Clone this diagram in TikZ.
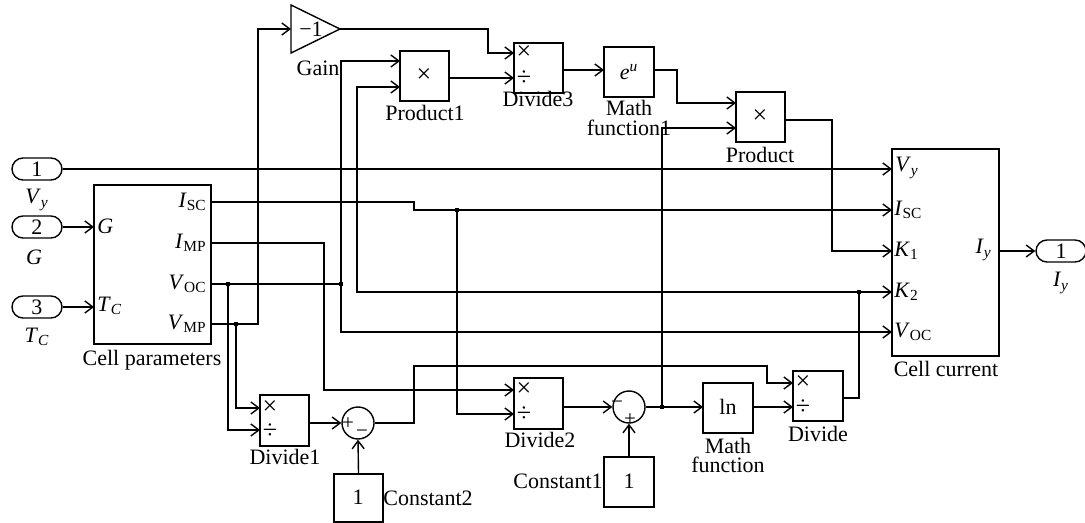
\documentclass[tikz,border=0pt]{standalone}
\usepackage{fontspec}
\setmainfont{Liberation Serif}
\usetikzlibrary{arrows.meta,shapes.misc,fit}
\newcommand\vs[2]{\textit{#1}\textsubscript{#2}}
\newcommand\vi[2]{\textit{#1}\textsubscript{\textit{#2}}}
\begin{document}
\begin{tikzpicture}[x=0.5pt,y=-0.5pt,font=\fontsize{11}{12}\selectfont,
  wire/.style={line width=0.7pt},
  arr/.style={wire,-{Straight Barb[length=4pt,width=6pt,line width=0.7pt]}},
  blk/.style={draw,line width=0.7pt,inner sep=0pt},
  port/.style={draw,rounded rectangle,line width=0.7pt,minimum width=25pt,minimum height=11pt,inner sep=0pt},
  jdot/.style={fill,rectangle,inner sep=0pt,minimum size=2.4pt},
  sumc/.style={draw,circle,line width=0.7pt,minimum size=16pt,inner sep=0pt},
  lbl/.style={inner sep=0pt},
  sym/.style={inner sep=0pt,font=\fontsize{13}{13}\selectfont},
  sgn/.style={inner sep=0pt,font=\fontsize{10.5}{10.5}\selectfont}]
\useasboundingbox (0,0) rectangle (1085,523);

% ---------- inports / outport
\node[port] (in1) at (37,169) {1};
\node[port] (in2) at (37,227) {2};
\node[port] (in3) at (37,307) {3};
\node[port] (out1) at (1061,251) {1};
\node[lbl] (in1-l) at (37,200) {\vi{V}{y}};
\node[lbl] (in2-l) at (34,257) {\textit{G}};
\node[lbl] (in3-l) at (37,337) {\vi{T}{C}};
\node[lbl] (out1-l) at (1061,283) {\vi{I}{y}};

% ---------- Cell parameters
\node[blk,fit={(94,185)(211,344)}] (cp) {};
\node[lbl,anchor=west] (cp-tg) at (97,226) {\textit{G}};
\node[lbl,anchor=west] (cp-ttc) at (97,306) {\vi{T}{C}};
\node[lbl,anchor=east] (cp-tisc) at (207,202) {\vs{I}{SC}};
\node[lbl,anchor=east] (cp-timp) at (207,243) {\vs{I}{MP}};
\node[lbl,anchor=east] (cp-tvoc) at (207,284) {\vs{V}{OC}};
\node[lbl,anchor=east] (cp-tvmp) at (207,324) {\vs{V}{MP}};
\node[lbl] (cp-l) at (152,360) {Cell parameters};
\coordinate (cp-g) at (94,227);
\coordinate (cp-tc) at (94,307);
\coordinate (cp-isc) at (211,202);
\coordinate (cp-imp) at (211,243);
\coordinate (cp-voc) at (211,284);
\coordinate (cp-vmp) at (211,324);

% ---------- Cell current
\node[blk,fit={(892,149)(999,356)}] (cc) {};
\node[lbl,anchor=west] (cc-tvy) at (895,168) {\vi{V}{y}};
\node[lbl,anchor=west] (cc-tisc) at (894,210) {\vs{I}{SC}};
\node[lbl,anchor=west] (cc-tk1) at (894,251) {\vs{K}{1}};
\node[lbl,anchor=west] (cc-tk2) at (894,292) {\vs{K}{2}};
\node[lbl,anchor=west] (cc-tvoc) at (894,332) {\vs{V}{OC}};
\node[lbl,anchor=east] (cc-tiy) at (992,250) {\vi{I}{y}};
\node[lbl] (cc-l) at (946,369) {Cell current};
\coordinate (cc-vy) at (892,169);
\coordinate (cc-isc) at (892,210);
\coordinate (cc-k1) at (892,251);
\coordinate (cc-k2) at (892,292);
\coordinate (cc-voc) at (892,332);
\coordinate (cc-iy) at (999,251);

% ---------- Gain
\draw[wire] (291,5) -- (340,29) -- (291,53) -- cycle;
\coordinate (g-in) at (291,29);
\coordinate (g-out) at (340,29);
\node[lbl] (g-t) at (311,29) {−1};
\node[lbl] (g-l) at (318,68) {Gain};

% ---------- Product1
\node[blk,fit={(400,51)(449,101)}] (p1) {};
\node[sym] (p1-t) at (424,76) {×};
\node[lbl] (p1-l) at (425,113) {Product1};
\coordinate (p1-in1) at (400,61);
\coordinate (p1-in2) at (400,87);
\coordinate (p1-out) at (449,78);

% ---------- Divide3
\node[blk,fit={(514,43)(563,93)}] (d3) {};
\node[sym] (d3-t1) at (524,53) {×};
\node[sym] (d3-t2) at (524,78) {÷};
\node[lbl] (d3-l) at (538,99) {Divide3};
\coordinate (d3-mul) at (514,53);
\coordinate (d3-div) at (514,78);
\coordinate (d3-out) at (563,70);

% ---------- Math function1
\node[blk,fit={(604,47)(654,97)}] (mf1) {};
\node[lbl] (mf1-t) at (629,72) {\textit{e}\textsuperscript{\textit{u}}};
\node[lbl] (mf1-l1) at (629,108) {Math};
\node[lbl] (mf1-l2) at (629,128) {function1};
\coordinate (mf1-in) at (604,70);
\coordinate (mf1-out) at (654,70);

% ---------- Product
\node[blk,fit={(736,92)(785,142)}] (pr) {};
\node[sym] (pr-t) at (760,117) {×};
\node[lbl] (pr-l) at (760,155) {Product};
\coordinate (pr-in1) at (736,103);
\coordinate (pr-in2) at (736,128);
\coordinate (pr-out) at (785,120);

% ---------- Divide1
\node[blk,fit={(260,395)(309,446)}] (d1) {};
\node[sym] (d1-t1) at (270,408) {×};
\node[sym] (d1-t2) at (270,431) {÷};
\node[lbl] (d1-l) at (285,457) {Divide1};
\coordinate (d1-mul) at (260,408);
\coordinate (d1-div) at (260,430);
\coordinate (d1-out) at (309,423);

% ---------- Sum1
\node[sumc] (s1) at (358,423) {};
\node[sgn] (s1-p) at (348,424) {+};
\node[sgn] (s1-m) at (362,434) {−};

% ---------- Constant2
\node[blk,fit={(334,474)(383,522)}] (c2) {};
\node[lbl] (c2-t) at (358,497) {1};
\node[lbl] (c2-l) at (428,498) {Constant2};

% ---------- Divide2
\node[blk,fit={(514,378)(563,429)}] (d2) {};
\node[sym] (d2-t1) at (524,390) {×};
\node[sym] (d2-t2) at (524,414) {÷};
\node[lbl] (d2-l) at (540,440) {Divide2};
\coordinate (d2-mul) at (514,390);
\coordinate (d2-div) at (514,414);
\coordinate (d2-out) at (563,407);

% ---------- Sum2
\node[sumc] (s2) at (629,407) {};
\node[sgn] (s2-m) at (617,405) {−};
\node[sgn] (s2-p) at (630,420) {+};

% ---------- Constant1
\node[blk,fit={(604,457)(654,507)}] (c1) {};
\node[lbl] (c1-t) at (629,481) {1};
\node[lbl] (c1-l) at (558,481) {Constant1};

% ---------- Math function (ln)
\node[blk,fit={(703,383)(753,433)}] (ln) {};
\node[lbl] (ln-t) at (728,407) {ln};
\node[lbl] (ln-l1) at (728,446) {Math};
\node[lbl] (ln-l2) at (728,465) {function};
\coordinate (ln-in) at (703,407);
\coordinate (ln-out) at (753,407);

% ---------- Divide
\node[blk,fit={(793,371)(843,421)}] (dv) {};
\node[sym] (dv-t1) at (803,383) {×};
\node[sym] (dv-t2) at (803,407) {÷};
\node[lbl] (dv-l) at (818,434) {Divide};
\coordinate (dv-mul) at (793,383);
\coordinate (dv-div) at (793,407);
\coordinate (dv-out) at (843,398);

% ---------- junctions
\node[jdot] (j-voc1) at (228,284) {};
\node[jdot] (j-vmp) at (236,324) {};
\node[jdot] (j-voc2) at (341,284) {};
\node[jdot] (j-isc) at (457,210) {};
\node[jdot] (j-ln) at (662,407) {};
\node[jdot] (j-k2) at (859,292) {};

% ---------- connectors
\draw[arr] (in1.east) -- (cc-vy);
\draw[arr] (in2.east) -- (cp-g);
\draw[arr] (in3.east) -- (cp-tc);
\draw[arr] (cc-iy) -- (out1.west);

\draw[arr] (cp-isc) -- (414,202) -- (414,210) -- (cc-isc);
\draw[arr] (j-isc.center) |- (d2-div);
\draw[arr] (cp-imp) -- (324,243) |- (d2-mul);
\draw[wire] (cp-voc) -- (j-voc2.center);
\draw[arr] (j-voc2.center) |- (p1-in1);
\draw[arr] (j-voc2.center) |- (cc-voc);
\draw[arr] (j-voc1.center) |- (d1-div);
\draw[arr] (cp-vmp) -- (258,324) |- (g-in);
\draw[arr] (j-vmp.center) |- (d1-mul);

\draw[arr] (g-out) -- (488,29) |- (d3-mul);
\draw[arr] (p1-out) -- (d3-div);
\draw[arr] (d3-out) -- (mf1-in);
\draw[arr] (mf1-out) -- (677,70) |- (pr-in1);
\draw[arr] (pr-out) -- (832,120) |- (cc-k1);

\draw[arr] (d1-out) -- (s1.west);
\draw[arr] (c2.north) -- (s1.south);
\draw[arr] (s1.east) -| (414,366) -| (767,383) -- (dv-mul);
\draw[arr] (d2-out) -- (s2.west);
\draw[arr] (c1.north) -- (s2.south);
\draw[arr] (s2.east) -- (ln-in);
\draw[arr] (j-ln.center) |- (pr-in2);
\draw[arr] (ln-out) -- (dv-div);
\draw[wire] (dv-out) -| (j-k2.center);
\draw[arr] (j-k2.center) -- (cc-k2);
\draw[arr] (j-k2.center) -- (357,292) |- (p1-in2);
\end{tikzpicture}
\end{document}
